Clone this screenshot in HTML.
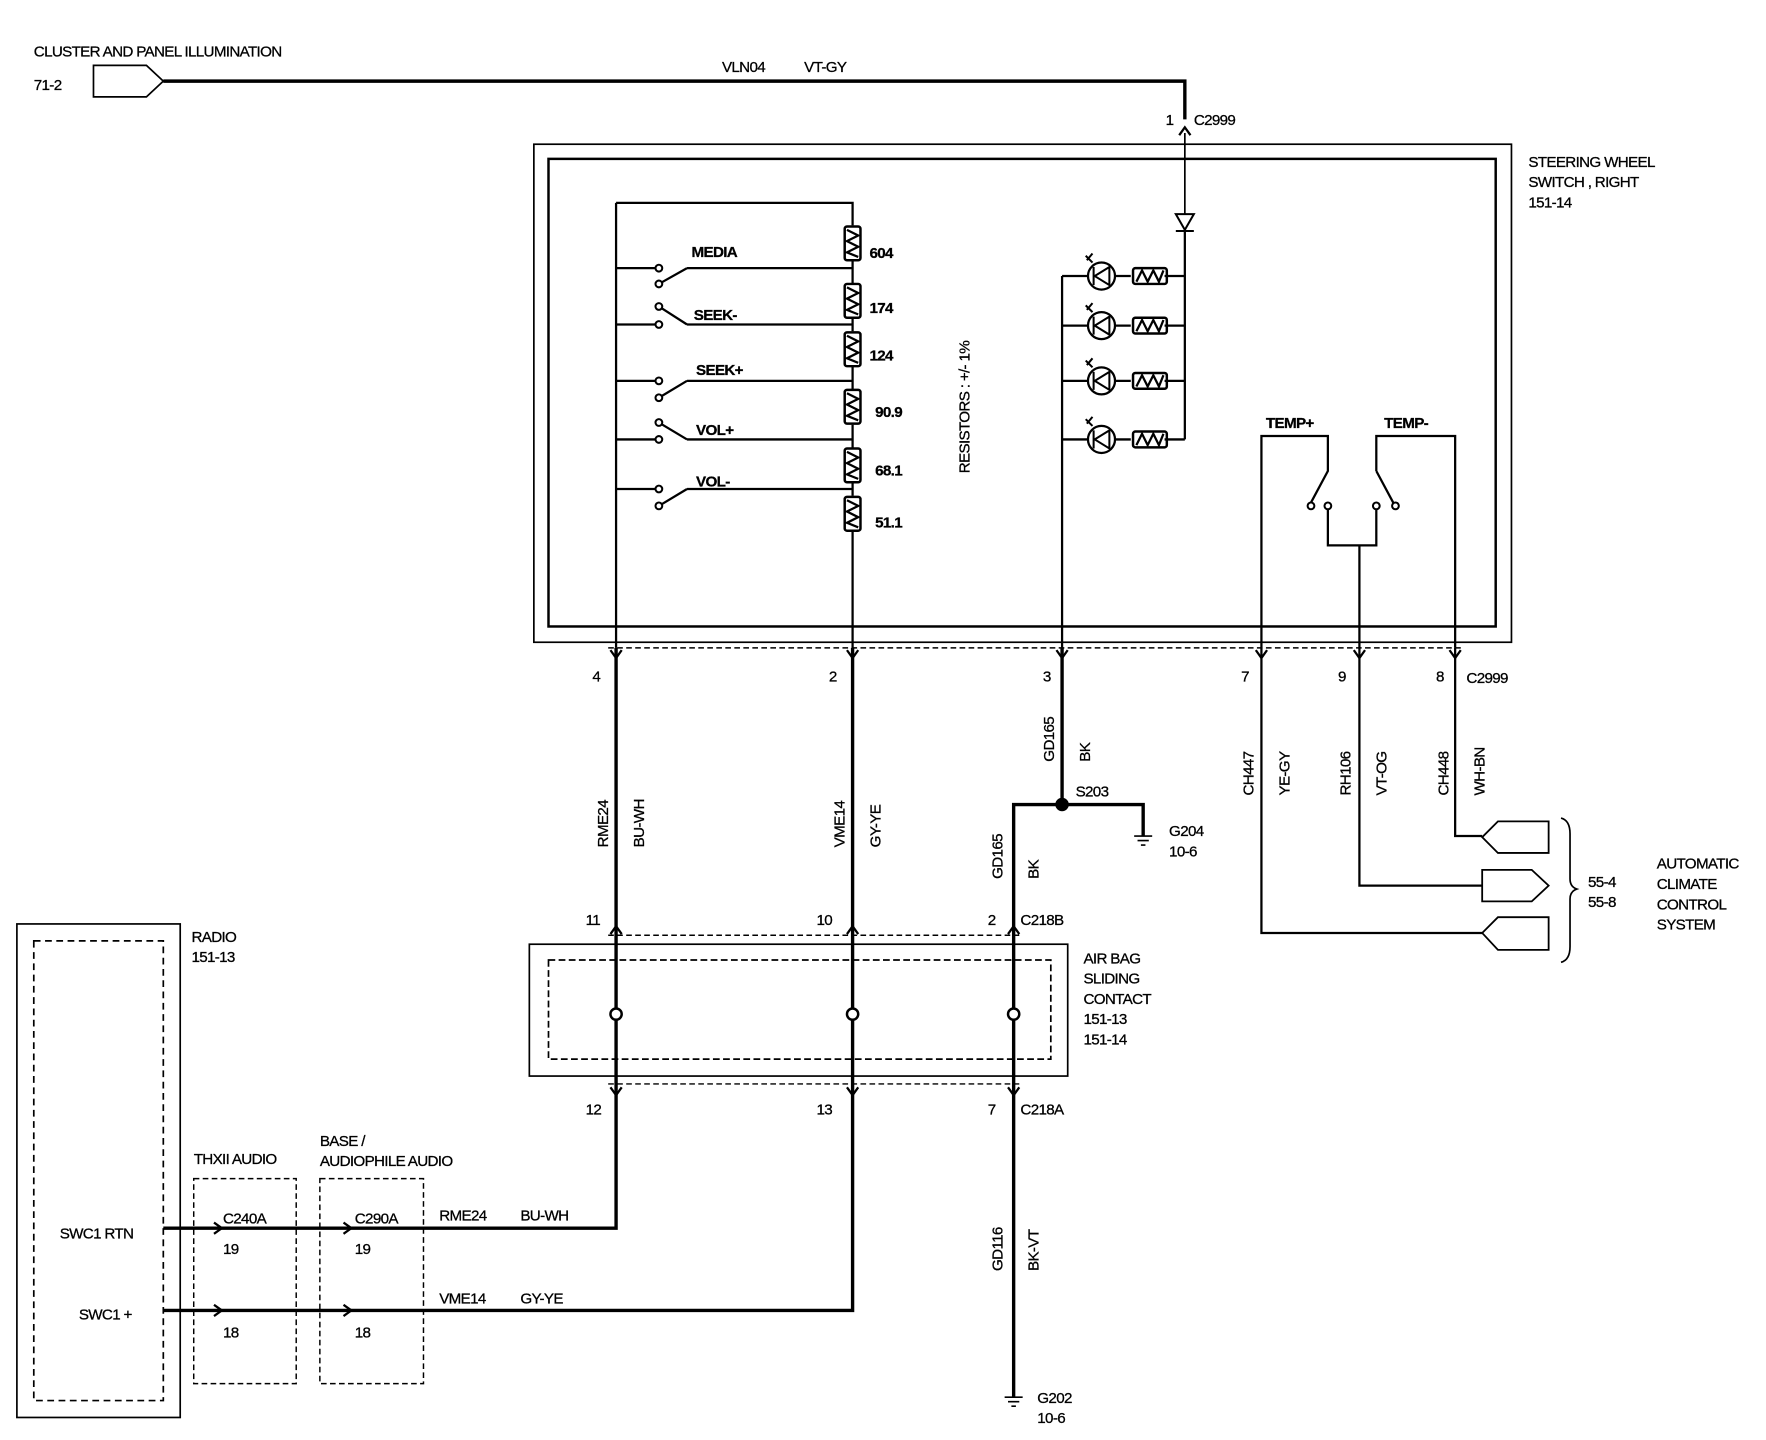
<!DOCTYPE html>
<html><head><meta charset="utf-8"><style>
html,body{margin:0;padding:0;background:#fff}
svg{display:block}
text{font-family:"Liberation Sans",Arial,sans-serif;font-size:13.5px;fill:#000;letter-spacing:-0.6px;stroke:#000;stroke-width:0.25px}
.b{font-weight:bold}
</style></head><body>
<svg width="1766" height="1440" viewBox="0 0 1568 1278" preserveAspectRatio="none" xmlns="http://www.w3.org/2000/svg">
<defs>
<g id="res"><rect x="-7" y="0" width="14" height="30" rx="2" fill="none" stroke="#000" stroke-width="2.2"/><path d="M-5,3 L5,8 L-5,13 L5,18 L-5,23 L5,27" fill="none" stroke="#000" stroke-width="2"/></g>
<g id="hres"><rect x="0" y="-7" width="30" height="14" rx="2" fill="none" stroke="#000" stroke-width="2.2"/><path d="M3,5 L8,-5 L13,5 L18,-5 L23,5 L27,-5" fill="none" stroke="#000" stroke-width="2"/></g>
<g id="led"><circle r="12" fill="none" stroke="#000" stroke-width="2"/><path d="M-7,-8 V8 M7,-8 L-6,0 L7,8 Z" fill="none" stroke="#000" stroke-width="1.8"/><path d="M-8,-12 L-14,-18 M-13,-14 L-8,-20" stroke="#000" stroke-width="1.8"/></g>
<path id="dn" d="M-5,-5 L0,2 L5,-5" fill="none" stroke="#000" stroke-width="2"/>
<path id="up" d="M-5,5 L0,-2 L5,5" fill="none" stroke="#000" stroke-width="2"/>
<path id="rt" d="M-5,-5 L2,0 L-5,5" fill="none" stroke="#000" stroke-width="2"/>
</defs>
<g fill="none" stroke="#000">
<path d="M83,58 H130 L145,72 L130,86 H83 Z" stroke-width="1.5"/>
<path d="M145,72 H1052 V106" stroke-width="3"/>
<use href="#up" x="1052" y="115"/>
<path d="M1052,118 V190" stroke-width="1.5"/>
<path d="M1044,190 L1060,190 L1052,204 Z M1044,205 H1060" stroke-width="1.8"/>
<path d="M1052,205 V390" stroke-width="2"/>
<rect x="474" y="128" width="868" height="442" stroke-width="1.5"/>
<rect x="487" y="141" width="841" height="415" stroke-width="2.2"/>
<path d="M547,180 H757 V200 M757,231 V252 M757,281 V294 M757,325 V346 M757,377 V398 M757,428 V440 M757,471 V575" stroke-width="2"/>
<path d="M547,180 V575" stroke-width="2"/>
<path d="M547,238 H582 M610,238 H757 M547,288 H582 M610,288 H757 M547,338 H582 M610,338 H757 M547,390 H582 M610,390 H757 M547,434 H582 M610,434 H757" stroke-width="2"/>
<path d="M585,252 L610,238 M585,272 L610,288 M585,353 L610,338 M585,375 L610,390 M585,449 L610,434" stroke-width="2"/>
<g stroke-width="1.8" fill="#fff">
<circle cx="585" cy="238" r="3"/><circle cx="585" cy="252" r="3"/>
<circle cx="585" cy="272" r="3"/><circle cx="585" cy="288" r="3"/>
<circle cx="585" cy="338" r="3"/><circle cx="585" cy="353" r="3"/>
<circle cx="585" cy="375" r="3"/><circle cx="585" cy="390" r="3"/>
<circle cx="585" cy="434" r="3"/><circle cx="585" cy="449" r="3"/>
</g>
<path d="M943,245 V575 M943,245 H966 M990,245 H1004 M1034,245 H1052 M943,289 H966 M990,289 H1004 M1034,289 H1052 M943,338 H966 M990,338 H1004 M1034,338 H1052 M943,390 H966 M990,390 H1004 M1034,390 H1052" stroke-width="2"/>
<path d="M1120,575 V387 H1179 V418 L1164,446 M1179,449 V484 H1222 V449 M1222,418 L1237,446 M1222,418 V387 H1292 V575 M1207,484 V575" stroke-width="2"/>
<circle cx="1164" cy="449" r="3" stroke-width="1.8" fill="#fff"/><circle cx="1179" cy="449" r="3" stroke-width="1.8" fill="#fff"/>
<circle cx="1222" cy="449" r="3" stroke-width="1.8" fill="#fff"/><circle cx="1239" cy="449" r="3" stroke-width="1.8" fill="#fff"/>
<path d="M540,575 H1300" stroke-width="1.3" stroke-dasharray="5,3"/>
<path d="M547,575 V1090 H145 M757,575 V1163 H145 M943,575 V714 M943,714 H900 V1240 M943,714 H1015 V742" stroke-width="3"/>
<path d="M1120,575 V828 H1316 M1207,575 V786 H1316 M1292,575 V742 H1316" stroke-width="2"/>
<path d="M1316,743 L1330,729 H1375 V757 H1330 Z" stroke-width="1.6"/>
<path d="M1316,772 H1360 L1375,786 L1360,800 H1316 Z" stroke-width="1.6"/>
<path d="M1316,828 L1330,814 H1375 V843 H1330 Z" stroke-width="1.6"/>
<path d="M1386,726 Q1394,728 1394,740 V780 Q1394,787 1400,789 Q1394,791 1394,798 V840 Q1394,852 1386,854" stroke-width="1.5"/>
<path d="M1007,742 H1023 M1010,746 H1020 M1013,750 H1017" stroke-width="1.5"/>
<path d="M892,1240 H908 M895,1244 H905 M898,1248 H902" stroke-width="1.5"/>
<rect x="470" y="838" width="478" height="117" stroke-width="1.5"/>
<rect x="487" y="852" width="446" height="88" stroke-width="1.5" stroke-dasharray="6,3"/>
<path d="M540,830 H905 M540,962 H905" stroke-width="1.3" stroke-dasharray="5,3"/>
<circle cx="547" cy="900" r="5" stroke-width="2.2" fill="#fff"/><circle cx="757" cy="900" r="5" stroke-width="2.2" fill="#fff"/><circle cx="900" cy="900" r="5" stroke-width="2.2" fill="#fff"/>
<rect x="15" y="820" width="145" height="438" stroke-width="1.5"/>
<rect x="30" y="835" width="115" height="408" stroke-width="1.5" stroke-dasharray="6,4"/>
<rect x="172" y="1046" width="91" height="182" stroke-width="1.3" stroke-dasharray="5,3"/>
<rect x="284" y="1046" width="92" height="182" stroke-width="1.3" stroke-dasharray="5,3"/>
</g>
<use href="#res" x="757" y="201"/><use href="#res" x="757" y="252"/><use href="#res" x="757" y="295"/>
<use href="#res" x="757" y="346"/><use href="#res" x="757" y="398"/><use href="#res" x="757" y="441"/>
<use href="#led" x="978" y="245"/><use href="#led" x="978" y="289"/><use href="#led" x="978" y="338"/><use href="#led" x="978" y="390"/>
<use href="#hres" x="1006" y="245"/><use href="#hres" x="1006" y="289"/><use href="#hres" x="1006" y="338"/><use href="#hres" x="1006" y="390"/>
<circle cx="943" cy="714" r="6" fill="#000"/>
<use href="#dn" x="547" y="582"/><use href="#dn" x="757" y="582"/><use href="#dn" x="943" y="582"/><use href="#dn" x="1120" y="582"/><use href="#dn" x="1207" y="582"/><use href="#dn" x="1292" y="582"/>
<use href="#up" x="547" y="824"/><use href="#up" x="757" y="824"/><use href="#up" x="900" y="824"/>
<use href="#dn" x="547" y="970"/><use href="#dn" x="757" y="970"/><use href="#dn" x="900" y="970"/>
<use href="#rt" x="195" y="1090"/><use href="#rt" x="310" y="1090"/><use href="#rt" x="195" y="1163"/><use href="#rt" x="310" y="1163"/>
<text x="30" y="50">CLUSTER AND PANEL ILLUMINATION</text>
<text x="30" y="80">71-2</text>
<text x="641" y="64">VLN04</text><text x="714" y="64">VT-GY</text>
<text x="1035" y="111">1</text><text x="1060" y="111">C2999</text>
<text x="1357" y="148">STEERING WHEEL</text><text x="1357" y="166">SWITCH , RIGHT</text><text x="1357" y="184">151-14</text>
<text x="614" y="228" class="b">MEDIA</text><text x="616" y="284" class="b">SEEK-</text><text x="618" y="333" class="b">SEEK+</text>
<text x="618" y="386" class="b">VOL+</text><text x="618" y="432" class="b">VOL-</text>
<text x="772" y="229" class="b">604</text><text x="772" y="278" class="b">174</text><text x="772" y="320" class="b">124</text>
<text x="777" y="370" class="b">90.9</text><text x="777" y="422" class="b">68.1</text><text x="777" y="468" class="b">51.1</text>
<text transform="translate(861,420) rotate(-90)">RESISTORS : +/- 1%</text>
<text x="1124" y="380" class="b">TEMP+</text><text x="1229" y="380" class="b">TEMP-</text>
<text x="526" y="605">4</text><text x="736" y="605">2</text><text x="926" y="605">3</text><text x="1102" y="605">7</text><text x="1188" y="605">9</text><text x="1275" y="605">8</text><text x="1302" y="606">C2999</text>
<text transform="translate(540,752) rotate(-90)">RME24</text><text transform="translate(572,752) rotate(-90)">BU-WH</text>
<text transform="translate(750,752) rotate(-90)">VME14</text><text transform="translate(782,752) rotate(-90)">GY-YE</text>
<text transform="translate(936,676) rotate(-90)">GD165</text><text transform="translate(968,676) rotate(-90)">BK</text>
<text transform="translate(890,780) rotate(-90)">GD165</text><text transform="translate(922,780) rotate(-90)">BK</text>
<text transform="translate(1113,706) rotate(-90)">CH447</text><text transform="translate(1145,706) rotate(-90)">YE-GY</text>
<text transform="translate(1199,706) rotate(-90)">RH106</text><text transform="translate(1231,706) rotate(-90)">VT-OG</text>
<text transform="translate(1286,706) rotate(-90)">CH448</text><text transform="translate(1318,706) rotate(-90)">WH-BN</text>
<text x="955" y="707">S203</text><text x="1038" y="742">G204</text><text x="1038" y="760">10-6</text>
<text x="1410" y="787">55-4</text><text x="1410" y="805">55-8</text>
<text x="1471" y="771">AUTOMATIC</text><text x="1471" y="789">CLIMATE</text><text x="1471" y="807">CONTROL</text><text x="1471" y="825">SYSTEM</text>
<text x="520" y="821">11</text><text x="725" y="821">10</text><text x="877" y="821">2</text><text x="906" y="821">C218B</text>
<text x="520" y="989">12</text><text x="725" y="989">13</text><text x="877" y="989">7</text><text x="906" y="989">C218A</text>
<text x="962" y="855">AIR BAG</text><text x="962" y="873">SLIDING</text><text x="962" y="891">CONTACT</text><text x="962" y="909">151-13</text><text x="962" y="927">151-14</text>
<text x="170" y="836">RADIO</text><text x="170" y="854">151-13</text>
<text x="53" y="1099">SWC1 RTN</text><text x="70" y="1171">SWC1 +</text>
<text x="172" y="1033">THXII AUDIO</text><text x="284" y="1017">BASE /</text><text x="284" y="1035">AUDIOPHILE AUDIO</text>
<text x="198" y="1086">C240A</text><text x="198" y="1113">19</text><text x="198" y="1187">18</text>
<text x="315" y="1086">C290A</text><text x="315" y="1113">19</text><text x="315" y="1187">18</text>
<text x="390" y="1083">RME24</text><text x="462" y="1083">BU-WH</text><text x="390" y="1157">VME14</text><text x="462" y="1157">GY-YE</text>
<text transform="translate(890,1128) rotate(-90)">GD116</text><text transform="translate(922,1128) rotate(-90)">BK-VT</text>
<text x="921" y="1245">G202</text><text x="921" y="1263">10-6</text>
</svg>
</body></html>
